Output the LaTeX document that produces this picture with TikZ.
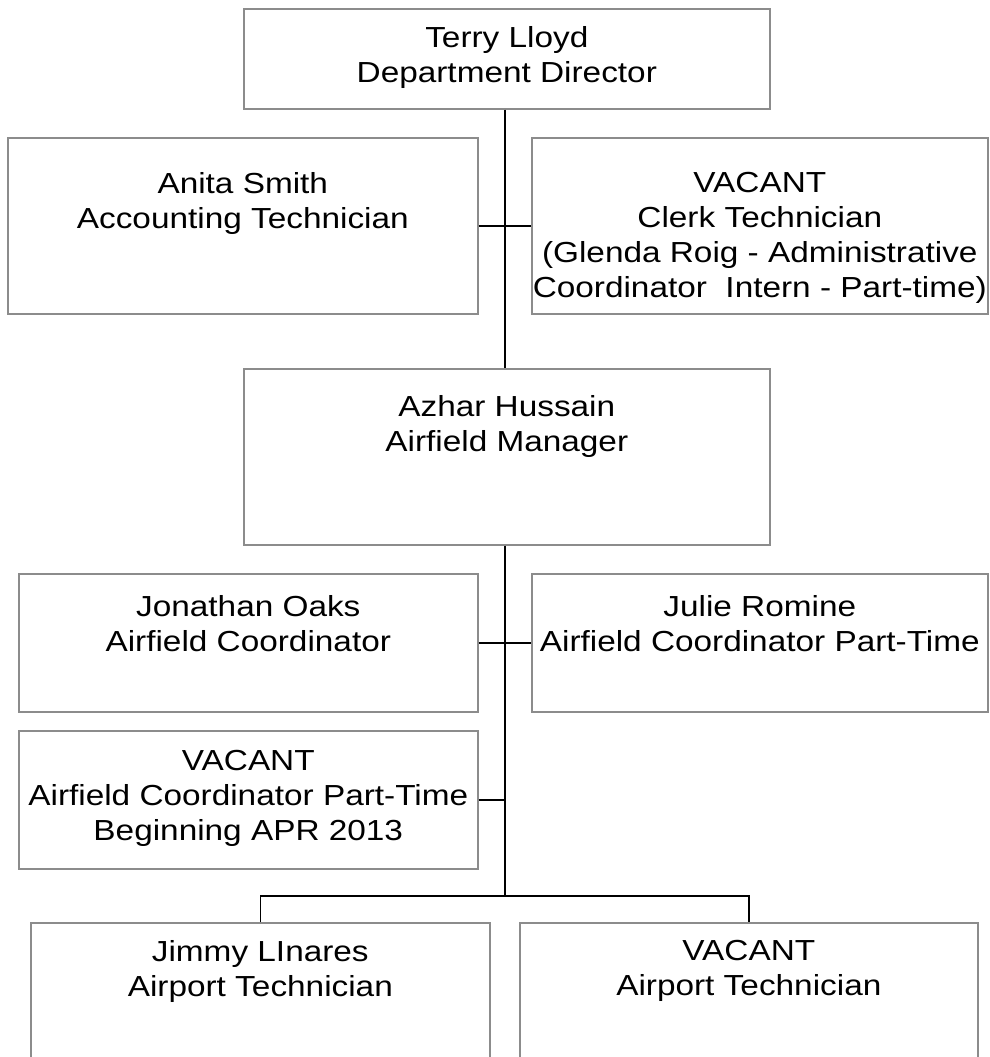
\documentclass[tikz,border=0pt]{standalone}
\usepackage{fontspec}
\setmainfont[FakeStretch=1.15]{Liberation Sans}
\begin{document}
\begin{tikzpicture}[x=1pt, y=-1pt,
  orgbox/.style={draw=black!45, line width=1.6pt, fill=white, inner sep=0pt, anchor=north west},
  orgtext/.style={anchor=north, inner sep=0pt, align=center, font=\fontsize{29}{35}\selectfont},
  link/.style={draw=black, line width=1.5pt}]
\useasboundingbox (0,0) rectangle (989,1057);
\clip (0,0) rectangle (989,1057);
\fill[white] (0,0) rectangle (989,1057);

% boxes: position by top-left corner, size in px
\node[orgbox, minimum width=526pt, minimum height=100pt] (director) at (243,8) {};
\node[orgbox, minimum width=470pt, minimum height=176pt] (acct) at (7,137) {};
\node[orgbox, minimum width=456pt, minimum height=176pt] (clerk) at (531,137) {};
\node[orgbox, minimum width=526pt, minimum height=176pt] (manager) at (243,368) {};
\node[orgbox, minimum width=459pt, minimum height=138pt] (oaks) at (18,573) {};
\node[orgbox, minimum width=456pt, minimum height=138pt] (romine) at (531,573) {};
\node[orgbox, minimum width=459pt, minimum height=138pt] (vaccoord) at (18,730) {};
\node[orgbox, minimum width=459pt, minimum height=170pt] (linares) at (30,922) {};
\node[orgbox, minimum width=458pt, minimum height=170pt] (vactech) at (519,922) {};

% titles
\node[orgtext] at ([yshift=-18pt]director.north) {Terry Lloyd\\Department Director};
\node[orgtext] at ([yshift=-35pt]acct.north) {Anita Smith\\Accounting Technician};
\node[orgtext] at ([yshift=-35pt]clerk.north) {VACANT\\Clerk Technician\\(Glenda Roig - Administrative\\Coordinator\ \ Intern - Part-time)};
\node[orgtext] at ([yshift=-27pt]manager.north) {Azhar Hussain\\Airfield Manager};
\node[orgtext] at ([yshift=-22pt]oaks.north) {Jonathan Oaks\\Airfield Coordinator};
\node[orgtext] at ([yshift=-22pt]romine.north) {Julie Romine\\Airfield Coordinator Part-Time};
\node[orgtext] at ([yshift=-20pt]vaccoord.north) {VACANT\\Airfield Coordinator Part-Time\\Beginning APR 2013};
\node[orgtext] at ([yshift=-18pt]linares.north) {Jimmy LInares\\Airport Technician};
\node[orgtext] at ([yshift=-18pt]vactech.north) {VACANT\\Airport Technician};

% connectors
\coordinate (bus) at (505,896);
\draw[link] (director.south -| bus) -- (manager.north -| bus);
\draw[link] (acct.east) -- (clerk.west);
\draw[link] (manager.south -| bus) -- (bus);
\draw[link] (oaks.east) -- (romine.west);
\draw[link] (vaccoord.east) -- (vaccoord.east -| bus);
\draw[link] (linares.north) |- (bus) -| (vactech.north);
\end{tikzpicture}
\end{document}
